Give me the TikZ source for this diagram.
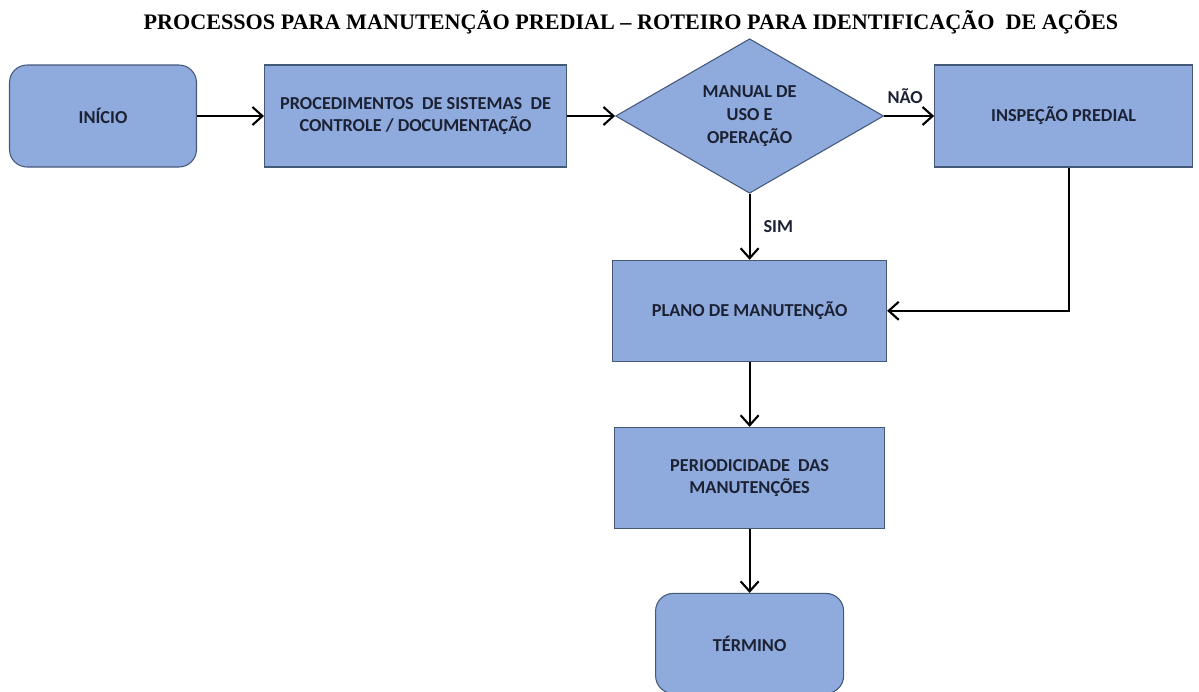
\documentclass[tikz,border=0pt]{standalone}
\usepackage{fontspec}
\setmainfont{Carlito}
\newfontfamily\titlefont{Liberation Serif}
\usetikzlibrary{arrows.meta, positioning, shapes.geometric}
\definecolor{boxfill}{RGB}{143,170,220}
\definecolor{boxline}{RGB}{68,88,122}
\definecolor{boxtext}{RGB}{28,34,52}

\begin{document}
\begin{tikzpicture}[
    >={Straight Barb[length=2mm,width=3.6mm]},
    box/.style={draw=boxline, line width=0.6pt, fill=boxfill, text=boxtext, font=\fontsize{10.4}{12.4}\selectfont\bfseries, align=center, minimum height=2.04cm, inner sep=2pt},
    startend/.style={box, rounded corners=10pt},
    process/.style={box},
    decision/.style={box, diamond, minimum width=5.36cm, minimum height=3.06cm, inner sep=0pt, font=\fontsize{10.4}{13}\selectfont\bfseries},
    arrow/.style={->, line width=1.2pt, color=black},
    lbl/.style={font=\fontsize{10.4}{12.4}\selectfont\bfseries, text=boxtext},
    titletext/.style={font=\titlefont\fontsize{12.6}{15}\selectfont\bfseries},
]
\useasboundingbox (0,0) rectangle (23.98,-13.82);
\node[titletext] (title) at (12.62,-0.44) {PROCESSOS PARA MANUTENÇÃO PREDIAL – ROTEIRO PARA IDENTIFICAÇÃO\ \ DE AÇÕES};
% top row
\node[startend, minimum width=3.74cm] (inicio) at (2.06,-2.32) {INÍCIO};
\node[process, minimum width=6.04cm, right=1.34cm of inicio] (proc) {PROCEDIMENTOS\ \ DE SISTEMAS\ \ DE\\CONTROLE / DOCUMENTAÇÃO};
\node[decision, right=0.96cm of proc] (manual) {MANUAL DE\\USO E\\OPERAÇÃO};
\node[process, minimum width=5.16cm, right=1.0cm of manual] (insp) {INSPEÇÃO PREDIAL};
% column below the decision
\node[process, minimum width=5.48cm, minimum height=2.02cm, below=1.32cm of manual] (plano) {PLANO DE MANUTENÇÃO};
\node[process, minimum width=5.4cm, minimum height=2.02cm, below=1.3cm of plano] (period) {PERIODICIDADE\ \ DAS\\MANUTENÇÕES};
\node[startend, minimum width=3.76cm, minimum height=2.0cm, below=1.28cm of period] (termino) {TÉRMINO};
% connectors
\draw[arrow] (inicio) -- (proc);
\draw[arrow] (proc) -- (manual);
\draw[arrow] (manual) -- node[lbl, above=3pt, pos=0.42] {NÃO} (insp);
\draw[arrow] (manual) -- node[lbl, right=4pt] {SIM} (plano);
\draw[arrow] ([xshift=0.1cm]insp.south) |- (plano.east);
\draw[arrow] (plano) -- (period);
\draw[arrow] (period) -- (termino);
\end{tikzpicture}
\end{document}
